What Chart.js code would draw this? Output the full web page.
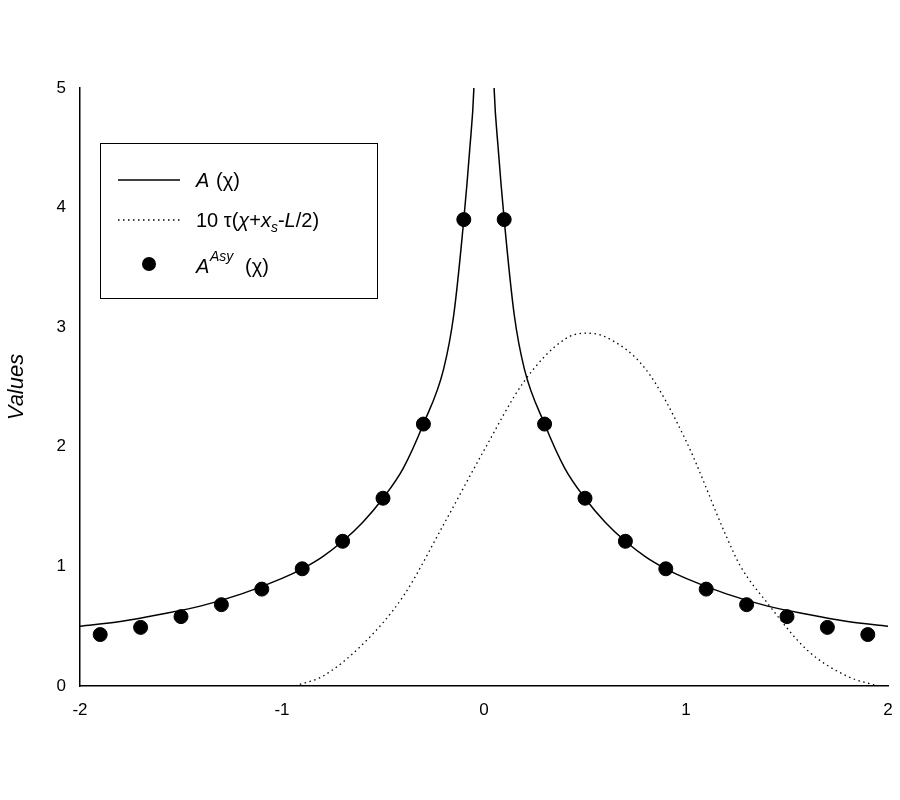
<!DOCTYPE html>
<html>
<head>
<meta charset="utf-8">
<script src="https://cdn.jsdelivr.net/npm/chart.js@4/dist/chart.umd.min.js"></script>
<style>
	body { margin: 0; background: #fff; }
	#wrap { width: 900px; height: 800px; }
</style>
</head>
<body>
<div id="wrap"><canvas id="chart"></canvas></div>
<script>
// A(chi) solid curve
const curveX = [-2, -1.8, -1.6, -1.4, -1.2, -1, -0.9, -0.8, -0.7, -0.6, -0.5, -0.4, -0.3, -0.2, -0.15, -0.1, -0.07, -0.05, -0.04,
	0.04, 0.05, 0.07, 0.1, 0.15, 0.2, 0.3, 0.4, 0.5, 0.6, 0.7, 0.8, 0.9, 1, 1.2, 1.4, 1.6, 1.8, 2];
const curveY = [0.5, 0.54, 0.6, 0.67, 0.77, 0.9, 0.98, 1.08, 1.21, 1.37, 1.57, 1.82, 2.19, 2.65, 3.1, 3.9, 4.5, 5.0, 5.6,
	5.6, 5.0, 4.5, 3.9, 3.1, 2.65, 2.19, 1.82, 1.57, 1.37, 1.21, 1.08, 0.98, 0.9, 0.77, 0.67, 0.6, 0.54, 0.5];

// 10 tau(chi + x_s - L/2) dotted curve
const tauX = [-2, -1.5, -0.95, -0.9, -0.8, -0.6, -0.4, -0.2, 0, 0.2, 0.4, 0.5, 0.6, 0.8, 1, 1.2, 1.27, 1.4, 1.6, 1.8, 1.95];
const tauY = [0, 0, 0, 0.02, 0.08, 0.35, 0.75, 1.35, 1.97, 2.55, 2.9, 2.95, 2.92, 2.65, 2.05, 1.25, 1.0, 0.7, 0.3, 0.08, 0];

// A^Asy(chi) dots
const dotX = [-1.9, -1.7, -1.5, -1.3, -1.1, -0.9, -0.7, -0.5, -0.3, -0.1, 0.1, 0.3, 0.5, 0.7, 0.9, 1.1, 1.3, 1.5, 1.7, 1.9];
const dotY = [0.43, 0.49, 0.58, 0.68, 0.81, 0.98, 1.21, 1.57, 2.19, 3.9, 3.9, 2.19, 1.57, 1.21, 0.98, 0.81, 0.68, 0.58, 0.49, 0.43];

const xTicks = [-2, -1, 0, 1, 2];
const yTicks = [0, 1, 2, 3, 4, 5];

const toPoints = (xs, ys) => xs.map((x, i) => ({ x: x, y: ys[i] }));

// Legend box drawn inside plot, like the original figure
const legendBox = {
	id: "legendBox",
	afterDraw(chart) {
		const ctx = chart.ctx;
		ctx.save();
		ctx.strokeStyle = "#000";
		ctx.lineWidth = 1;
		ctx.strokeRect(100.5, 143.5, 277, 155);
		ctx.fillStyle = "#000";
		ctx.textBaseline = "alphabetic";

		// row 1
		ctx.beginPath();
		ctx.moveTo(118, 180);
		ctx.lineTo(180, 180);
		ctx.lineWidth = 1.3;
		ctx.stroke();
		ctx.font = "italic 20px Arial, 'Liberation Sans'";
		ctx.fillText("A", 196, 187);
		ctx.font = "20px Arial, 'Liberation Sans'";
		ctx.fillText("(χ)", 216, 187);

		// row 2
		ctx.setLineDash([1.5, 3.5]);
		ctx.beginPath();
		ctx.moveTo(118, 220);
		ctx.lineTo(180, 220);
		ctx.stroke();
		ctx.setLineDash([]);
		let x = 196;
		const part = (t, font, dy) => {
			ctx.font = font;
			ctx.fillText(t, x, 227 + (dy || 0));
			x += ctx.measureText(t).width;
		};
		const reg = "20px Arial, 'Liberation Sans'";
		const it = "italic 20px Arial, 'Liberation Sans'";
		part("10 τ(", reg);
		part("χ", it);
		part("+", reg);
		part("x", it);
		part("s", "italic 14px Arial, 'Liberation Sans'", 5);
		part("-", reg);
		part("L", it);
		part("/2)", reg);

		// row 3
		ctx.beginPath();
		ctx.arc(149, 264, 7, 0, Math.PI * 2);
		ctx.fill();
		ctx.font = it;
		ctx.fillText("A", 196, 273);
		ctx.font = "italic 14px Arial, 'Liberation Sans'";
		ctx.fillText("Asy", 210, 261);
		ctx.font = reg;
		ctx.fillText("(χ)", 245, 273);
		ctx.restore();
	},
};

new Chart(document.getElementById("chart"), {
	type: "scatter",
	data: {
		datasets: [
			{
				type: "line",
				data: toPoints(curveX, curveY),
				borderColor: "#000",
				borderWidth: 1.5,
				pointRadius: 0,
				tension: 0.4,
				cubicInterpolationMode: "monotone",
			},
			{
				type: "line",
				data: toPoints(tauX, tauY),
				borderColor: "#000",
				borderWidth: 1.3,
				borderDash: [1.5, 3.5],
				pointRadius: 0,
				cubicInterpolationMode: "monotone",
			},
			{
				data: toPoints(dotX, dotY),
				backgroundColor: "#000",
				borderColor: "#000",
				pointRadius: 7,
			},
		],
	},
	options: {
		responsive: true,
		maintainAspectRatio: false,
		animation: false,
		layout: { padding: { top: 88, right: 12, left: 0, bottom: 44 } },
		plugins: { legend: false, tooltip: { enabled: false } },
		scales: {
			x: {
				type: "linear",
				min: -2,
				max: 2,
				afterBuildTicks: (axis) => { axis.ticks = xTicks.map((v) => ({ value: v })); },
				afterFit: (axis) => { axis.height = 70; },
				grid: { display: false, drawTicks: true, tickLength: 8, tickColor: "#000" },
				border: { color: "#000", width: 1.5 },
				ticks: { color: "#000", font: { size: 17, family: "Arial" }, padding: 6 },
			},
			y: {
				min: 0,
				max: 5,
				afterBuildTicks: (axis) => { axis.ticks = yTicks.map((v) => ({ value: v })); },
				afterFit: (axis) => { axis.width = 80; },
				grid: { display: false, drawTicks: true, tickLength: 8, tickColor: "#000" },
				border: { color: "#000", width: 1.5 },
				ticks: { color: "#000", font: { size: 17, family: "Arial" }, padding: 6 },
				title: { display: true, text: "Values", color: "#000", font: { size: 22, style: "italic", family: "Arial" }, padding: 4 },
			},
		},
	},
	plugins: [legendBox],
});
</script>
</body>
</html>
